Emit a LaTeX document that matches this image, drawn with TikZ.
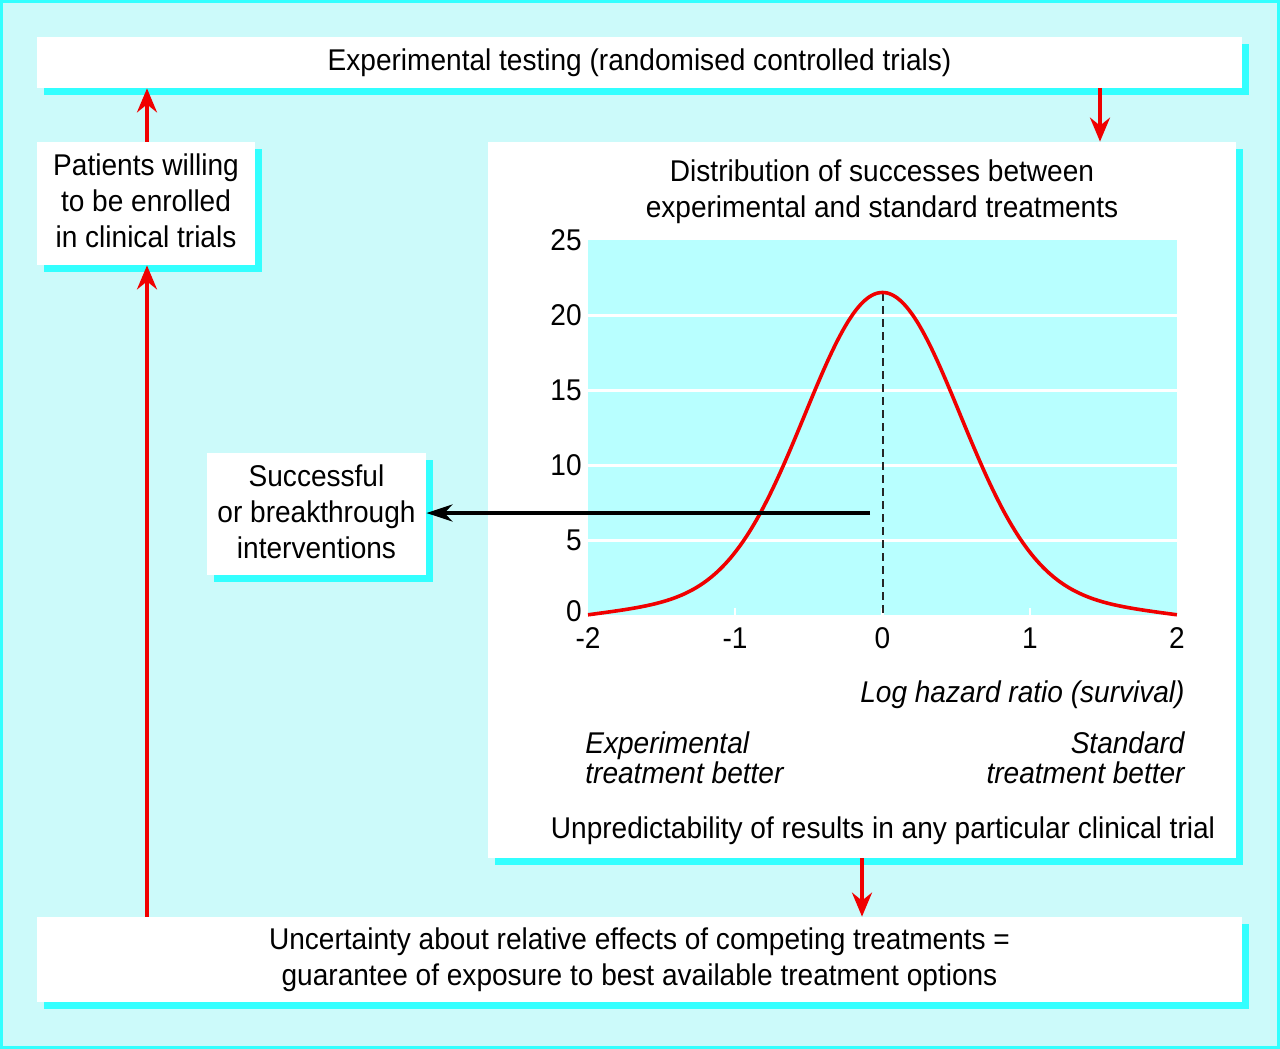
\documentclass[tikz,border=0pt]{standalone}
\usepackage{fontspec}
\setmainfont{Liberation Sans}[FakeStretch=0.935]
\usetikzlibrary{arrows.meta,shadows}
\definecolor{bgcyan}{RGB}{204,250,250}
\definecolor{edgecyan}{RGB}{51,255,255}
\definecolor{shcyan}{RGB}{51,255,255}
\definecolor{plotcyan}{RGB}{184,255,255}
\definecolor{arrred}{RGB}{240,0,0}
\newcommand\diagfont{\fontsize{15pt}{18pt}\selectfont}
\newcommand\diagit{\fontsize{15pt}{15pt}\selectfont\itshape}
\begin{document}
\begin{tikzpicture}[x=0.5pt,y=-0.5pt,
  box/.style={fill=white, draw=none, inner sep=0pt, align=center, font=\diagfont,
    drop shadow={shadow xshift=3.5pt, shadow yshift=-3.5pt, fill=shcyan, opacity=1}},
  lbl/.style={inner sep=0pt, font=\diagfont},
  itlbl/.style={inner sep=0pt, font=\diagit},
  redarrow/.style={draw=arrred, line width=1.7pt, -{Stealth[length=12pt,width=10pt,inset=4pt]}},
  blackarrow/.style={draw=black, line width=2pt, -{Stealth[length=13pt,width=8.5pt,inset=4pt]}},
  grid line/.style={draw=white, line width=1.5pt},
  curve/.style={draw=arrred, line width=1.8pt, line join=round}
]
\useasboundingbox (0,0) rectangle (1280,1049);
\fill[bgcyan] (0,0) rectangle (1280,1049);
\draw[edgecyan, line width=1.5pt] (1.5,1.5) rectangle (1278.5,1047.5);

% boxes
\node[box, minimum width=602.5pt, minimum height=25.5pt] (top) at (639.5,62.5)
  {Experimental testing (randomised controlled trials)};
\node[box, minimum width=109pt, minimum height=61.5pt] (patients) at (146,203.5)
  {Patients willing\\to be enrolled\\in clinical trials\\[-15pt]};
\node[box, minimum width=374pt, minimum height=358pt] (chart) at (862,500) {};
\node[box, minimum width=109.5pt, minimum height=61pt] (success) at (316.5,514)
  {Successful\\or breakthrough\\interventions\\[-16pt]};
\node[box, minimum width=602.5pt, minimum height=42.5pt] (bottom) at (639.5,959.5)
  {Uncertainty about relative effects of competing treatments =\\guarantee of exposure to best available treatment options};

% chart contents
\node[lbl, align=center] (ctitle) at (882,192)
  {Distribution of successes between\\experimental and standard treatments};
\fill[plotcyan] (588,240) rectangle (1177,615);
\foreach \yy in {315,390,465,540} \draw[grid line] (588,\yy) -- (1177,\yy);
\foreach \xx in {735,882.5,1030} \draw[white, line width=1.2pt] (\xx,608) -- (\xx,615);
\foreach \v/\yy in {25/240,20/315,15/390,10/465,5/540} \node[lbl, anchor=east] (yl\v) at (582,\yy) {\v};
\node[lbl, anchor=east] (yl0) at (582,611) {0};
\foreach \v/\xx/\n in {-2/588/a,-1/735/b,0/882.5/c,1/1030/d,2/1177/e}
  \node[lbl] (xl\n) at (\xx,638) {\v};
\draw[black!85, line width=1pt, dash pattern=on 4pt off 2.5pt] (882.5,293) -- (882.5,615);
\draw[curve] plot[domain=-2:2, samples=121, smooth]
  ({882.5+147.25*\x}, {615-15*(20.3*exp(-\x*\x/0.55)+1.2*(1-\x*\x/4))});
\node[itlbl, anchor=east] (xtitle) at (1185,695) {Log hazard ratio (survival)};
\node[itlbl, anchor=west, align=left] (expbetter) at (585,758) {Experimental\\treatment better};
\node[itlbl, anchor=east, align=right] (stdbetter) at (1185,758) {Standard\\treatment better};
\node[lbl] (unpred) at (883,831) {Unpredictability of results in any particular clinical trial};

% connectors
\coordinate (leftx) at (147,0);
\coordinate (rightx) at (1100,0);
\coordinate (armstart) at (870,513);
\draw[redarrow] (patients.north -| leftx) -- (top.south -| leftx);
\draw[redarrow] (bottom.north -| leftx) -- (patients.south -| leftx);
\draw[redarrow] (top.south -| rightx) -- (chart.north -| rightx);
\draw[redarrow] (chart.south) -- (bottom.north -| chart.south);
\draw[blackarrow] (armstart) -- (success.east |- armstart);
\end{tikzpicture}
\end{document}
